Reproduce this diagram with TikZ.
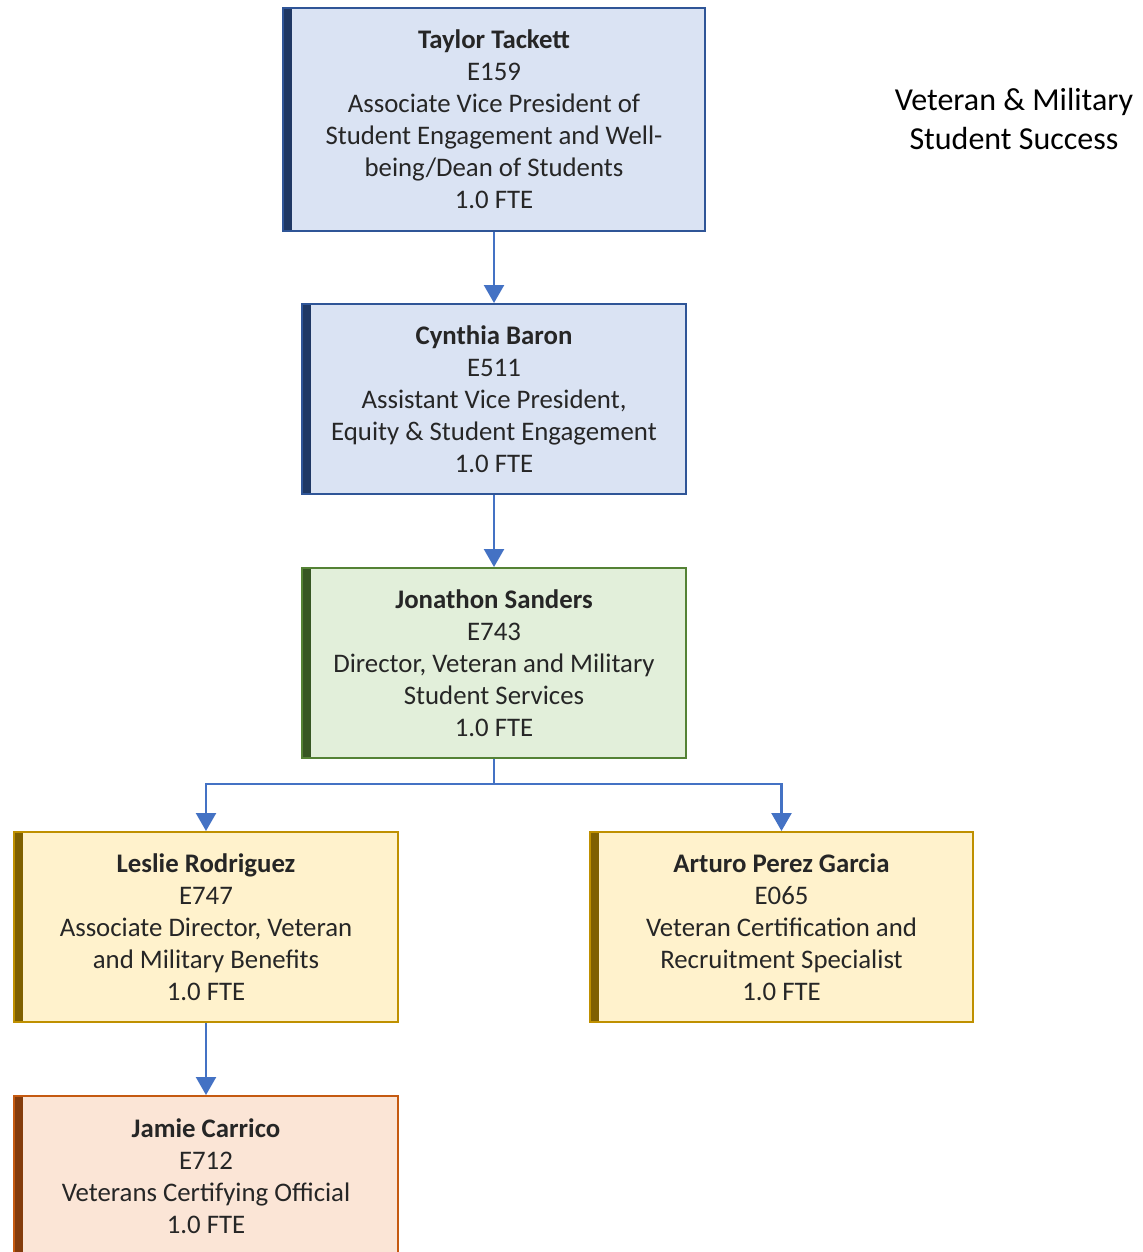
\documentclass[tikz,border=0pt]{standalone}
\usepackage{fontspec}
\setmainfont{Carlito}
\usetikzlibrary{arrows.meta,calc}

\definecolor{bluefill}{HTML}{DAE3F3}
\definecolor{blueline}{HTML}{2F5597}
\definecolor{bluebar}{HTML}{1F3864}
\definecolor{greenfill}{HTML}{E2EFDA}
\definecolor{greenline}{HTML}{548235}
\definecolor{greenbar}{HTML}{375623}
\definecolor{goldfill}{HTML}{FFF2CC}
\definecolor{goldline}{HTML}{BF9000}
\definecolor{goldbar}{HTML}{7F6000}
\definecolor{rustfill}{HTML}{FBE5D6}
\definecolor{rustline}{HTML}{C55A11}
\definecolor{rustbar}{HTML}{843C0C}
\definecolor{linkblue}{HTML}{4472C4}
\definecolor{ink}{HTML}{262626}

\tikzset{
	card/.style n args={3}{rectangle, fill=#1, draw=#2, line width=1pt,
		text=ink, align=center, inner sep=0pt,
		font=\fontsize{13.4}{16}\selectfont,
		path picture={\fill[#3] (path picture bounding box.north west)
			rectangle ([xshift=4.5pt]path picture bounding box.south west);}},
	bluecard/.style={card={bluefill}{blueline}{bluebar}},
	greencard/.style={card={greenfill}{greenline}{greenbar}},
	goldcard/.style={card={goldfill}{goldline}{goldbar}},
	rustcard/.style={card={rustfill}{rustline}{rustbar}},
	link/.style={draw=linkblue, line width=1.2pt, -{Triangle[length=9pt,width=10pt]}}
}

\begin{document}
\begin{tikzpicture}[x=0.5pt,y=-0.5pt]
		
		% Page frame
		\useasboundingbox (0,0) rectangle (1143,1252);
		
		% Top of the chart
		\node[bluecard, minimum width=211pt, minimum height=111.5pt] (tackett) at (494,119.5)
			{\textbf{Taylor Tackett}\\E159\\Associate Vice President of\\Student Engagement and Well-\\being/Dean of Students\\1.0 FTE};
		\node[bluecard, minimum width=192pt, minimum height=95pt] (baron) at (494,399)
			{\textbf{Cynthia Baron}\\E511\\Assistant Vice President,\\Equity \& Student Engagement\\1.0 FTE};
		
		% Director
		\node[greencard, minimum width=192pt, minimum height=95pt] (sanders) at (494,663)
			{\textbf{Jonathon Sanders}\\E743\\Director, Veteran and Military\\Student Services\\1.0 FTE};
		
		% Staff under the director
		\node[goldcard, minimum width=192pt, minimum height=95pt] (rodriguez) at (206,927)
			{\textbf{Leslie Rodriguez}\\E747\\Associate Director, Veteran\\and Military Benefits\\1.0 FTE};
		\node[goldcard, minimum width=191.5pt, minimum height=95pt] (garcia) at (781.5,927)
			{\textbf{Arturo Perez Garcia}\\E065\\Veteran Certification and\\Recruitment Specialist\\1.0 FTE};
		\node[rustcard, minimum width=192pt, minimum height=80pt] (carrico) at (206,1176)
			{\textbf{Jamie Carrico}\\E712\\Veterans Certifying Official\\1.0 FTE};
		
		% Title
		\node[align=center, font=\fontsize{16}{19.5}\selectfont] (title) at (1014,119.5)
			{Veteran \& Military\\Student Success};
		
		% Reporting lines
		\draw[link] (tackett.south) -- (baron.north);
		\draw[link] (baron.south) -- (sanders.north);
		\coordinate (fork) at ($(sanders.south)+(0,25)$);
		\draw[link] (sanders.south) -- (fork) -| (rodriguez.north);
		\draw[link] (fork) -| (garcia.north);
		\draw[link] (rodriguez.south) -- (carrico.north);
		
\end{tikzpicture}
\end{document}
